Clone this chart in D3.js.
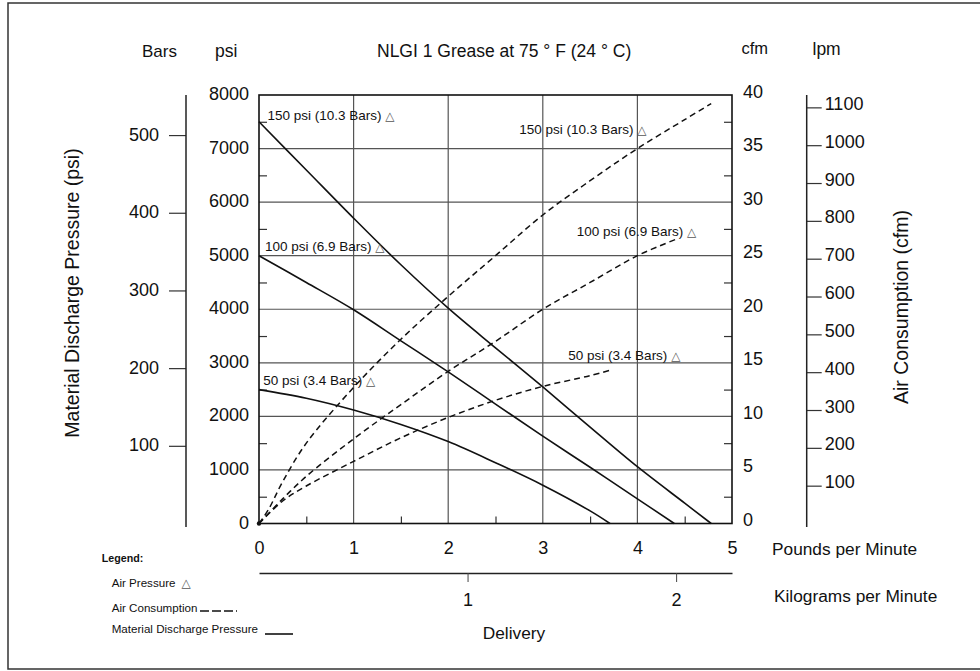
<!DOCTYPE html>
<html>
<head>
<meta charset="utf-8">
<script src="https://cdn.jsdelivr.net/npm/d3@7"></script>
<style>
  html, body { margin: 0; padding: 0; background: #fff; }
  svg { display: block; }
  text { font-family: "Liberation Sans", Arial, Helvetica, sans-serif; fill: #111; }
</style>
</head>
<body>
<svg id="chart" width="980" height="671"></svg>
<script>
// ---------------- data ----------------
const xTicks = [0, 1, 2, 3, 4, 5];                     // Pounds per Minute
const kgTicks = [1, 2];                                // Kilograms per Minute
const psiTicks = [0, 1000, 2000, 3000, 4000, 5000, 6000, 7000, 8000];
const barTicks = [100, 200, 300, 400, 500];
const cfmTicks = [0, 5, 10, 15, 20, 25, 30, 35, 40];
const lpmTicks = [100, 200, 300, 400, 500, 600, 700, 800, 900, 1000, 1100];
const psiMinor = [500, 1500, 2500, 3500, 4500, 5500, 6500, 7500];
const cfmMinor = [2.5, 7.5, 12.5, 17.5, 22.5, 27.5, 32.5, 37.5];
const xMinor = [0.5, 1.5, 2.5, 3.5, 4.5];

// Material discharge pressure (psi) vs delivery (lb/min)
const delivery150 = [0, 0.5, 1, 1.5, 2, 2.5, 3, 3.5, 4, 4.5, 4.78];
const pressure150 = [7500, 6600, 5700, 4830, 4020, 3280, 2550, 1800, 1060, 380, 0];
const delivery100 = [0, 0.5, 1, 1.5, 2, 2.5, 3, 3.5, 4, 4.39];
const pressure100 = [5000, 4500, 3990, 3410, 2830, 2230, 1630, 1050, 460, 0];
const delivery50 = [0, 0.5, 1, 1.5, 2, 2.5, 3, 3.5, 3.71];
const pressure50 = [2500, 2340, 2120, 1850, 1530, 1135, 715, 235, 0];

// Air consumption (cfm) vs delivery (lb/min)
const airDelivery150 = [0, 0.1, 0.25, 0.5, 1, 1.5, 2, 2.5, 3, 3.5, 4, 4.5, 4.78];
const air150 = [0, 1.3, 3.9, 7.5, 12.7, 17.2, 21.2, 25.0, 28.8, 32.0, 35.0, 37.7, 39.2];
const airDelivery100 = [0, 0.25, 0.5, 1, 1.5, 2, 2.5, 3, 3.5, 4, 4.4];
const air100 = [0, 2.3, 4.4, 7.9, 11.1, 14.2, 17.0, 20.0, 22.5, 25.0, 26.5];
const airDelivery50 = [0, 0.25, 0.5, 1, 1.5, 2, 2.5, 3, 3.5, 3.71];
const air50 = [0, 2.1, 3.5, 5.8, 8.0, 9.9, 11.5, 12.8, 13.8, 14.3];

const pressureLabels = ["150 psi (10.3 Bars)", "100 psi (6.9 Bars)", "50 psi (3.4 Bars)"];
const legendLabels = ["Air Pressure", "Air Consumption", "Material Discharge Pressure"];

// ---------------- layout ----------------
const svg = d3.select("#chart");
const PSI_PER_BAR = 14.5038, LPM_PER_CFM = 28.3168, LB_PER_KG = 2.20462;
const plot = { left: 259, right: 732, top: 95, bottom: 523.5 };
const fmt = d3.format("d");

const x = d3.scaleLinear().domain([0, 5]).range([plot.left, plot.right]);
const xKg = d3.scaleLinear().domain([0, 5 / LB_PER_KG]).range([plot.left, plot.right]);
const yPsi = d3.scaleLinear().domain([0, 8000]).range([plot.bottom, plot.top]);
const yBar = d3.scaleLinear().domain([0, 8000 / PSI_PER_BAR]).range([plot.bottom, plot.top]);
const yCfm = d3.scaleLinear().domain([0, 40]).range([plot.bottom, plot.top]);
const yLpm = d3.scaleLinear().domain([0, 40 * LPM_PER_CFM]).range([plot.bottom, plot.top]);

const INK = "#111";

// outer frame
svg.append("rect").attr("x", 8).attr("y", 3).attr("width", 990).attr("height", 666)
  .attr("fill", "none").attr("stroke", "#333").attr("stroke-width", 1.5);

// grid
const grid = svg.append("g").attr("stroke", "#555").attr("stroke-width", 1.2);
grid.selectAll("line.v").data(xTicks.slice(1, -1)).join("line")
  .attr("x1", d => x(d)).attr("x2", d => x(d)).attr("y1", plot.top).attr("y2", plot.bottom);
grid.selectAll("line.h").data(psiTicks.slice(1, -1)).join("line")
  .attr("x1", plot.left).attr("x2", plot.right).attr("y1", d => yPsi(d)).attr("y2", d => yPsi(d));

// minor inner ticks
function clean(g) { g.select(".domain").remove(); g.selectAll("line").attr("stroke", "#333").attr("stroke-width", 1.2); return g; }
svg.append("g").attr("transform", `translate(${plot.left},0)`)
  .call(d3.axisRight(yPsi).tickValues(psiMinor).tickSize(8).tickFormat(""))
  .call(clean);
svg.append("g").attr("transform", `translate(${plot.right},0)`)
  .call(d3.axisLeft(yCfm).tickValues(cfmMinor).tickSize(8).tickFormat(""))
  .call(clean);
svg.append("g").attr("transform", `translate(0,${plot.bottom})`)
  .call(d3.axisTop(x).tickValues(xMinor).tickSize(7).tickFormat(""))
  .call(clean);

// plot border
svg.append("rect").attr("x", plot.left).attr("y", plot.top)
  .attr("width", plot.right - plot.left).attr("height", plot.bottom - plot.top)
  .attr("fill", "none").attr("stroke", INK).attr("stroke-width", 1.6);

function styleText(g, size, dy) {
  g.selectAll("text").attr("font-size", size).attr("fill", INK)
    .attr("font-family", '"Liberation Sans", Arial, sans-serif').attr("dy", dy);
}

// psi axis labels
svg.append("g").attr("transform", `translate(${plot.left},0)`)
  .call(d3.axisLeft(yPsi).tickValues(psiTicks).tickFormat(fmt).tickSize(0).tickPadding(10))
  .call(g => g.select(".domain").remove())
  .call(g => styleText(g, 18, 4.5));

// bars axis
svg.append("g").attr("transform", "translate(186,0)")
  .call(d3.axisLeft(yBar).tickValues(barTicks).tickFormat(fmt).tickSize(17).tickPadding(10))
  .call(g => g.select(".domain").remove())
  .call(g => g.selectAll("line").attr("stroke", "#333").attr("stroke-width", 1.2))
  .call(g => styleText(g, 18, 5));
svg.append("line").attr("x1", 186).attr("x2", 186).attr("y1", plot.top).attr("y2", 527)
  .attr("stroke", "#222").attr("stroke-width", 1.5);

// cfm axis labels
svg.append("g").attr("transform", `translate(${plot.right},0)`)
  .call(d3.axisRight(yCfm).tickValues(cfmTicks).tickFormat(fmt).tickSize(0).tickPadding(11))
  .call(g => g.select(".domain").remove())
  .call(g => styleText(g, 18, 2));

// lpm axis
svg.append("g").attr("transform", "translate(806.7,0)")
  .call(d3.axisRight(yLpm).tickValues(lpmTicks).tickFormat(fmt).tickSize(15).tickPadding(3))
  .call(g => g.select(".domain").remove())
  .call(g => g.selectAll("line").attr("stroke", "#333").attr("stroke-width", 1.2))
  .call(g => styleText(g, 18, 2));
svg.append("line").attr("x1", 806.7).attr("x2", 806.7).attr("y1", plot.top).attr("y2", 527)
  .attr("stroke", "#222").attr("stroke-width", 1.5);

// x axis (lb/min)
svg.append("g").attr("transform", `translate(0,${plot.bottom})`)
  .call(d3.axisBottom(x).tickValues(xTicks).tickFormat(fmt).tickSize(0).tickPadding(17.5))
  .call(g => g.select(".domain").remove())
  .call(g => styleText(g, 18, "0.71em"));

// kg axis
svg.append("g").attr("transform", "translate(0,573)")
  .call(d3.axisBottom(xKg).tickValues(kgTicks).tickFormat(fmt).tickSize(9).tickSizeOuter(0).tickPadding(11))
  .call(g => g.select(".domain").attr("stroke", "#222").attr("stroke-width", 1.5))
  .call(g => g.selectAll("line").attr("stroke", "#444").attr("stroke-width", 1))
  .call(g => styleText(g, 18, "0.71em"));

// curves
const zip = (xs, ys) => xs.map((d, i) => [d, ys[i]]);
const psiLine = d3.line().x(d => x(d[0])).y(d => yPsi(d[1])).curve(d3.curveCatmullRom.alpha(0.5));
const cfmLine = d3.line().x(d => x(d[0])).y(d => yCfm(d[1])).curve(d3.curveCatmullRom.alpha(0.5));

const solids = [zip(delivery150, pressure150), zip(delivery100, pressure100), zip(delivery50, pressure50)];
const dashes = [zip(airDelivery150, air150), zip(airDelivery100, air100), zip(airDelivery50, air50)];

svg.append("g").selectAll("path").data(solids).join("path")
  .attr("d", psiLine).attr("fill", "none").attr("stroke", INK).attr("stroke-width", 1.6);
svg.append("g").selectAll("path").data(dashes).join("path")
  .attr("d", cfmLine).attr("fill", "none").attr("stroke", INK).attr("stroke-width", 1.5)
  .attr("stroke-dasharray", "6,4");
svg.append("circle").attr("cx", x(0)).attr("cy", yPsi(0)).attr("r", 2.2).attr("fill", INK);

// curve annotations: left = material pressure curves (psi), right = air consumption curves (cfm)
const leftAnno = [[0.09, 7540], [0.063, 5088], [0.045, 2595]];
const rightAnno = [[2.752, 36.4], [3.358, 26.8], [3.27, 15.25]];
function anno(pos, ys) {
  svg.append("g").selectAll("text").data(pos).join("text")
    .attr("x", d => x(d[0])).attr("y", d => ys(d[1]))
    .attr("font-size", 13.5).attr("fill", "#1a1a1a")
    .each(function (d, i) {
      const t = d3.select(this);
      t.append("tspan").text(pressureLabels[i] + " ");
      t.append("tspan").attr("fill", "#555").attr("font-family", "DejaVu Sans").attr("font-size", 12).text("△");
    });
}
anno(leftAnno, yPsi);
anno(rightAnno, yCfm);

// header labels
const header = [["Bars", 142, 57, 17], ["psi", 215, 57, 17.5], ["cfm", 741.5, 54, 16.5], ["lpm", 812.5, 55, 17.5]];
svg.append("g").selectAll("text").data(header).join("text")
  .attr("x", d => d[1]).attr("y", d => d[2]).attr("font-size", d => d[3]).text(d => d[0]);
svg.append("text").attr("x", 377).attr("y", 56.7).attr("font-size", 17.5)
  .text("NLGI 1 Grease at 75 ° F (24 ° C)");

// axis titles
svg.append("text").attr("transform", "translate(79,293) rotate(-90)")
  .attr("text-anchor", "middle").attr("font-size", 19.5).text("Material Discharge Pressure (psi)");
svg.append("text").attr("transform", "translate(907.5,307) rotate(-90)")
  .attr("text-anchor", "middle").attr("font-size", 19.5).text("Air Consumption (cfm)");
svg.append("text").attr("x", 772).attr("y", 555).attr("font-size", 17.3).text("Pounds per Minute");
svg.append("text").attr("x", 774).attr("y", 601.7).attr("font-size", 17.3).text("Kilograms per Minute");
svg.append("text").attr("x", 514).attr("y", 639.3).attr("text-anchor", "middle").attr("font-size", 17.3).text("Delivery");

// legend
const lg = svg.append("g");
lg.append("text").attr("x", 101.7).attr("y", 562).attr("font-size", 10.7).attr("font-weight", "bold").text("Legend:");
const legY = [586.5, 612, 633];
lg.selectAll("text.item").data(legendLabels).join("text").attr("class", "item")
  .attr("x", 111.7).attr("y", (d, i) => legY[i]).attr("font-size", 11.6).attr("fill", "#222")
  .each(function (d, i) {
    const t = d3.select(this);
    t.append("tspan").text(d);
    if (i === 0) t.append("tspan").attr("dx", 6).attr("fill", "#555").attr("font-family", "DejaVu Sans").attr("font-size", 12).text("△");
  });
lg.append("line").attr("x1", 200).attr("x2", 237).attr("y1", 611).attr("y2", 611)
  .attr("stroke", INK).attr("stroke-width", 1.6).attr("stroke-dasharray", "9,3");
lg.append("line").attr("x1", 265).attr("x2", 293).attr("y1", 634).attr("y2", 634)
  .attr("stroke", INK).attr("stroke-width", 1.6);
</script>
</body>
</html>
